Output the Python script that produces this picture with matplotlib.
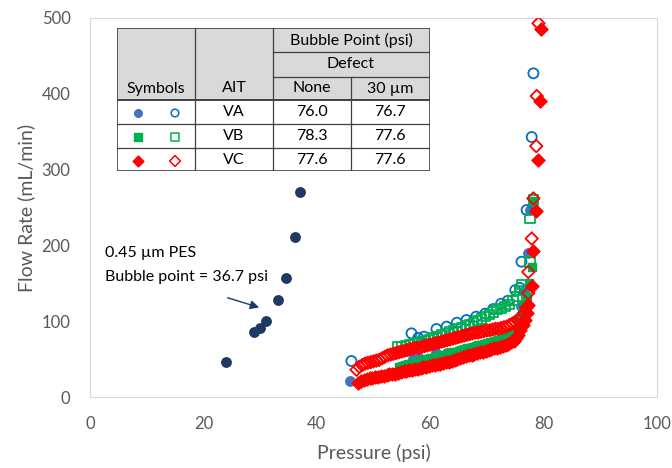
import matplotlib
matplotlib.use("Agg")
import matplotlib.pyplot as plt
from matplotlib.patches import Rectangle

plt.rcParams['font.family'] = ['Lato', 'DejaVu Sans']

# 0.45 um PES reference membrane
pes_p = [24.0, 28.9, 30.0, 31.0, 33.2, 34.6, 36.1, 37.0]
pes_q = [46.6, 85.8, 91.0, 100.7, 128.0, 157.0, 211.0, 270.0]

# VA, no defect
va_p = [45.9, 57.0, 58.0, 61.1, 63.0, 65.0, 67.0, 69.0, 71.0, 73.0, 74.5, 75.3, 76.0, 76.5, 77.3, 77.6]
va_q = [21, 50, 51, 58, 58, 61, 64, 67, 71, 77, 86, 102, 120, 140, 190, 247]

# VA, 30 um defect
va30_p = [46.1, 56.7, 57.9, 58.9, 61.1, 62.9, 64.7, 66.4, 68.1, 69.7, 71.1, 72.5, 73.7, 75.0, 75.8,
          76.1, 77.0, 77.9, 78.2]
va30_q = [47.5, 84, 78, 79.6, 89.7, 92.8, 98, 101.6, 106, 110, 116, 123, 127, 141, 144,
          178.5, 246.7, 343, 427]

# VB, no defect
vb_p = [54.5, 55.0, 55.5, 56.0, 56.5, 57.0, 57.5, 58.0, 58.5, 59.0, 59.5, 60.0, 60.5, 61.0, 61.5,
        62.0, 62.5, 63.0, 63.5, 64.0, 64.5, 65.0, 65.5, 66.0, 66.5, 67.0, 67.5, 68.0, 68.5, 69.0,
        69.5, 70.0, 70.5, 71.0, 71.5, 72.0, 72.5, 73.0, 73.5, 74.0, 74.5, 75.0, 75.5, 75.8, 76.2,
        76.6, 77.0, 77.4, 77.9, 78.2]
vb_q = [40, 41, 42, 43, 44, 45, 46, 47, 48, 49, 50, 51, 52, 53, 54,
        55, 56, 57, 58, 59, 60, 61, 62, 63, 64, 65, 66, 67, 68, 69,
        70, 71, 72, 73, 74, 75, 77, 78, 80, 82, 85, 89, 95, 102, 110,
        120, 132, 150, 172, 258]

# VB, 30 um defect
vb30_p = [54.3, 55.0, 55.7, 56.4, 57.1, 57.8, 58.5, 59.2, 59.9, 60.6, 61.3, 62.0, 62.7, 63.4, 64.1,
          64.8, 65.5, 66.2, 66.9, 67.6, 68.3, 69.0, 69.7, 70.4, 71.1, 71.8, 72.5, 73.2, 73.9, 74.6,
          75.3, 75.8, 76.2, 77.6, 77.6, 78.2]
vb30_q = [66, 67, 68, 69, 70, 72, 73, 74, 76, 78, 80, 82, 84, 86, 88,
          90, 92, 94, 96, 98, 101, 103, 106, 109, 112, 115, 117, 119, 122, 127,
          133, 140, 148, 178, 236, 260]

# VC, no defect
vc_p = [47.3, 47.8, 48.3, 48.8, 49.3, 49.8, 50.3, 50.8, 51.3, 51.8, 52.3, 52.8, 53.3, 53.8, 54.3,
        54.8, 55.3, 55.8, 56.3, 56.8, 57.3, 57.8, 58.3, 58.8, 59.3, 59.8, 60.3, 60.8, 61.3, 61.8,
        62.3, 62.8, 63.3, 63.8, 64.3, 64.8, 65.3, 65.8, 66.3, 66.8, 67.3, 67.8, 68.3, 68.8, 69.3,
        69.8, 70.3, 70.8, 71.3, 71.8, 72.3, 72.8, 73.3, 73.8, 74.3, 74.7, 75.1, 75.5, 75.9, 76.3,
        76.7, 77.0, 77.3, 77.9, 78.2, 78.7, 79.1, 79.4, 79.5]
vc_q = [18, 21, 23, 24, 25, 25, 26, 27, 28, 28, 29, 30, 31, 31, 32,
        33, 34, 34, 35, 36, 37, 37, 38, 39, 40, 41, 42, 42, 43, 44,
        45, 46, 46, 47, 49, 50, 52, 53, 54, 55, 56, 57, 58, 59, 60,
        61, 62, 63, 64, 65, 66, 67, 68, 70, 72, 74, 78, 82, 88, 95,
        101, 111, 121, 146, 192, 245, 313, 390, 485]

# VC, 30 um defect
vc30_p = [47.0, 47.5, 48.0, 48.5, 49.0, 49.5, 50.0, 50.5, 51.0, 51.5, 52.0, 52.5, 53.0, 53.5, 54.0,
          54.5, 55.0, 55.5, 56.0, 56.5, 57.0, 57.5, 58.0, 58.5, 59.0, 59.5, 60.0, 60.5, 61.0, 61.5,
          62.0, 62.5, 63.0, 63.5, 64.0, 64.5, 65.0, 65.5, 66.0, 66.5, 67.0, 67.5, 68.0, 68.5, 69.0,
          69.5, 70.0, 70.5, 71.0, 71.5, 72.0, 72.5, 73.0, 73.5, 74.0, 74.5, 75.0, 75.5, 76.0, 76.5,
          77.0, 77.3, 77.3, 77.9, 78.2, 78.7, 78.8, 79.1]
vc30_q = [36, 40, 42, 44, 45, 46, 47, 48, 49, 51, 53, 55, 56, 57, 58,
          59, 60, 61, 62, 63, 64, 65, 65, 66, 67, 68, 69, 70, 71, 72,
          73, 74, 75, 76, 77, 78, 79, 80, 81, 82, 83, 84, 85, 85, 86,
          87, 88, 88, 89, 90, 90, 91, 92, 93, 95, 97, 99, 102, 106, 110,
          118, 137, 165, 209, 262, 331, 397, 493]

# table contents
aits = ['VA', 'VB', 'VC']
bp_none = ['76.0', '78.3', '77.6']
bp_defect = ['76.7', '77.6', '77.6']

navy = '#203864'
blue = '#4472C4'
blue_open = '#0070C0'
green = '#00B050'
red = '#FF0000'
grey_txt = '#595959'

W, H = 672, 468
fig = plt.figure(figsize=(W / 100, H / 100), dpi=100)
ax = fig.add_axes([90 / W, 1 - 397 / H, 567 / W, 379 / H])

ms = 46
ax.scatter(pes_p, pes_q, s=ms, marker='o', color=navy, zorder=3)
ax.scatter(va_p, va_q, s=ms, marker='o', color=blue, zorder=3)
ax.scatter(va30_p, va30_q, s=ms + 6, marker='o', facecolor='none', edgecolor=blue_open, linewidth=1.3, zorder=3)
ax.scatter(vb_p, vb_q, s=ms - 6, marker='s', color=green, zorder=3)
ax.scatter(vb30_p, vb30_q, s=ms - 2, marker='s', facecolor='none', edgecolor=green, linewidth=1.3, zorder=3)
ax.scatter(vc30_p, vc30_q, s=ms - 6, marker='D', facecolor='none', edgecolor=red, linewidth=1.3, zorder=3)
ax.scatter(vc_p, vc_q, s=ms - 2, marker='D', color=red, zorder=3)

ax.set_xlim(0, 100)
ax.set_ylim(0, 500)
ax.set_xticks(range(0, 101, 20))
ax.set_yticks(range(0, 501, 100))
ax.tick_params(length=0, labelsize=12, labelcolor=grey_txt, pad=14)
for sp in ax.spines.values():
    sp.set_color('#D9D9D9')
ax.set_xlabel('Pressure (psi)', fontsize=14, color=grey_txt, labelpad=8)
ax.set_ylabel('Flow Rate (mL/min)', fontsize=14, color=grey_txt, labelpad=5)

ax.text(2.6, 190, '0.45 µm PES', fontsize=11.5, va='center')
ax.text(2.6, 158, 'Bubble point = 36.7 psi', fontsize=11.5, va='center')
ax.annotate('', xy=(30.3, 117), xytext=(23.8, 132),
            arrowprops=dict(arrowstyle='-|>', color=navy, lw=1, mutation_scale=13))

# bubble point table, drawn in pixel coordinates
tb = fig.add_axes([117 / W, 1 - 171 / H, 313 / W, 143 / H])
tb.set_xlim(117, 430)
tb.set_ylim(171, 28)
tb.axis('off')
tb.add_patch(Rectangle((117, 28), 313, 72, facecolor='#D9D9D9', edgecolor='none'))
tb.add_patch(Rectangle((117, 100), 313, 71, facecolor='white', edgecolor='none'))
lc = '#404040'
tb.plot([117, 430, 430, 117, 117], [28, 28, 171, 171, 28], color=lc, lw=1.2)
for xv in (195.5, 273.3):
    tb.plot([xv, xv], [28, 171], color=lc, lw=0.9)
tb.plot([351, 351], [76.7, 171], color=lc, lw=0.9)
for yv in (52.3, 76.7):
    tb.plot([273.3, 430], [yv, yv], color=lc, lw=0.9)
tb.plot([117, 430], [100, 100], color=lc, lw=1.4)
for yv in (123.5, 147.5):
    tb.plot([117, 430], [yv, yv], color=lc, lw=0.9)

fs = 11.5
tb.text(351, 40.5, 'Bubble Point (psi)', fontsize=fs, ha='center', va='center')
tb.text(351, 64.5, 'Defect', fontsize=fs, ha='center', va='center')
for xc, label in zip((156, 234, 312, 390), ('Symbols', 'AIT', 'None', '30 µm')):
    tb.text(xc, 88.5, label, fontsize=fs, ha='center', va='center')

row_y = [112, 136, 160]
fills = [('o', blue), ('s', green), ('D', red)]
opens = [('o', blue_open), ('s', green), ('D', red)]
for i, yc in enumerate(row_y):
    tb.text(234, yc, aits[i], fontsize=fs, ha='center', va='center')
    tb.text(312, yc, bp_none[i], fontsize=fs, ha='center', va='center')
    tb.text(390, yc, bp_defect[i], fontsize=fs, ha='center', va='center')
    tb.scatter([138.3], [yc + 1], s=30, marker=fills[i][0], color=fills[i][1])
    tb.scatter([175], [yc + 1], s=30, marker=opens[i][0], facecolor='none',
               edgecolor=opens[i][1], linewidth=1.1)

fig.savefig('out.png', dpi=100)
